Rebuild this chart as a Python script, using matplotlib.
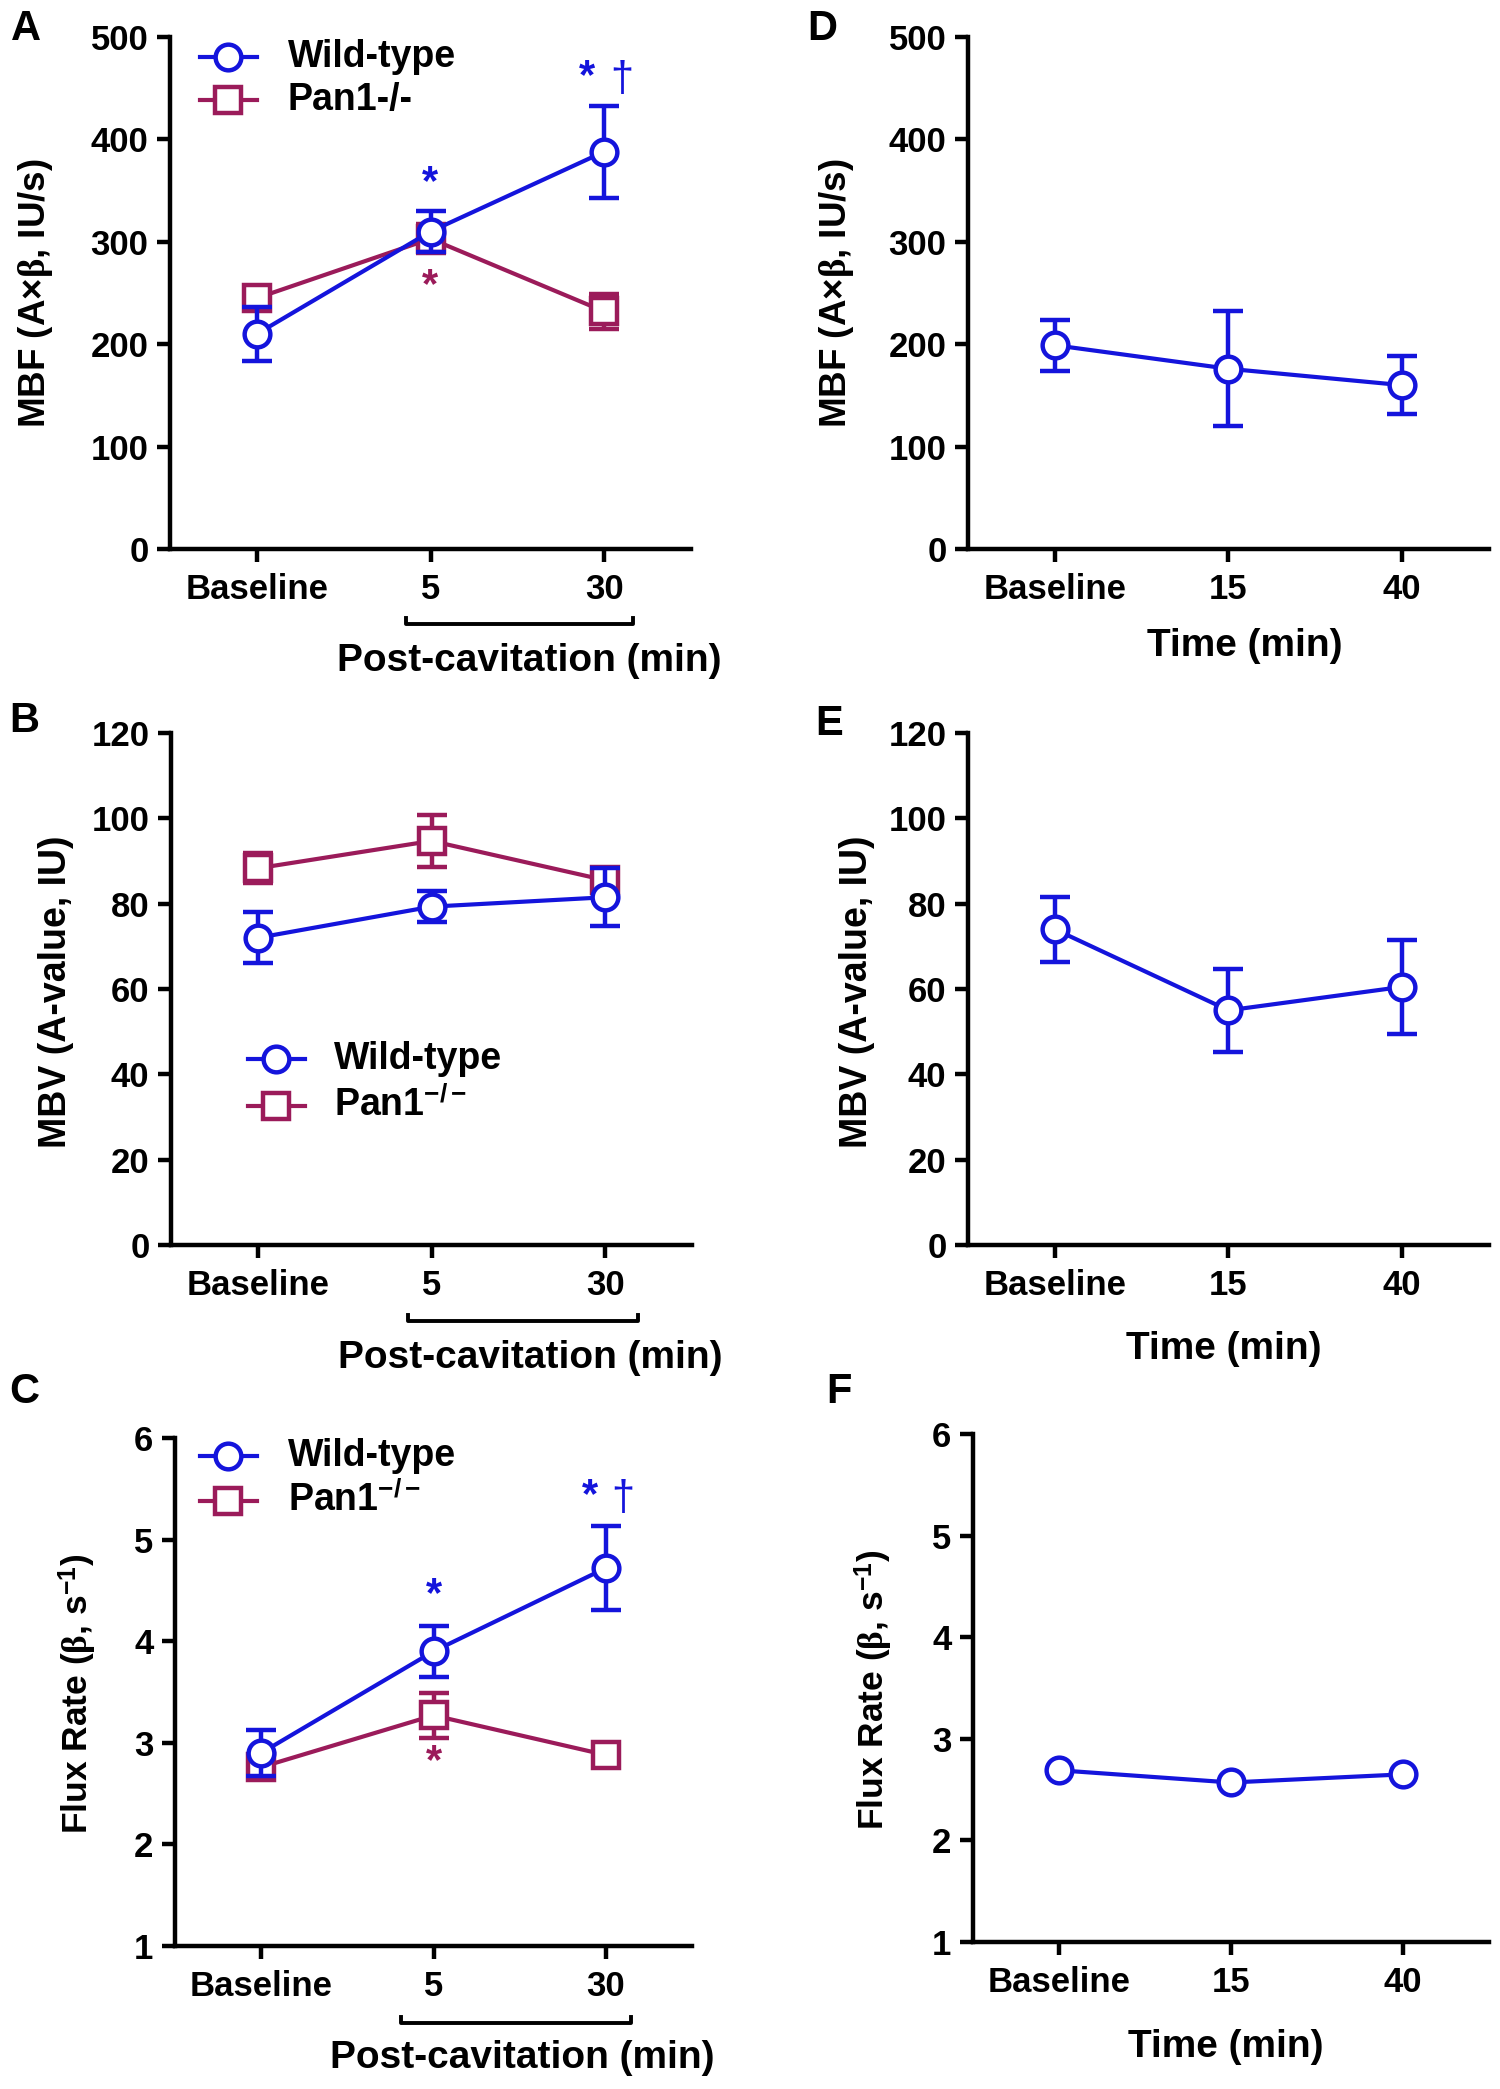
import matplotlib
matplotlib.use('Agg')
import matplotlib.pyplot as plt
from matplotlib.lines import Line2D
import numpy as np

plt.rcParams['font.family'] = ['Liberation Sans', 'DejaVu Sans']
plt.rcParams['font.weight'] = 'bold'
plt.rcParams['mathtext.fontset'] = 'custom'
plt.rcParams['mathtext.rm'] = 'Liberation Serif'
plt.rcParams['mathtext.it'] = 'Liberation Serif'
plt.rcParams['mathtext.bf'] = 'Liberation Sans:bold'

# ---------------- data ----------------
post_labels = ['Baseline', '5', '30']
time_labels = ['Baseline', '15', '40']
groups = ['Wild-type', 'Pan1-/-']

mbf_wt = [210, 310, 388]
mbf_wt_err = [26, 20, 45]
mbf_pan = [245, 303, 232]
mbf_pan_err = [11, 14, 17]

mbv_wt = [72, 79.3, 81.5]
mbv_wt_err = [6, 3.7, 6.8]
mbv_pan = [88.3, 94.7, 85.5]
mbv_pan_err = [3.5, 6, 2.5]

flux_wt = [2.9, 3.9, 4.72]
flux_wt_err = [0.23, 0.25, 0.41]
flux_pan = [2.76, 3.27, 2.88]
flux_pan_err = [0.12, 0.22, 0.04]

mbf_time = [199, 176, 160]
mbf_time_err = [25, 56, 28]
mbv_time = [74, 55, 60.5]
mbv_time_err = [7.6, 9.7, 11]
flux_time = [2.69, 2.57, 2.65]

# ---------------- layout ----------------
W, H = 1500, 2089
fig = plt.figure(figsize=(15, 20.89), dpi=100)
fig.patch.set_facecolor('white')

BLUE = '#1414DC'
RED = '#9B1B5A'
LW = 3.0
MS_O = 18.5
MS_S = 19


def fx(p):
    return p / W


def fy(p):
    return 1 - p / H


def add_ax(left, top, right, bottom):
    return fig.add_axes([fx(left), fy(bottom), (right - left) / W, (bottom - top) / H])


def style(ax, ylim, yticks, xlabels):
    ax.set_xlim(-0.5, 2.5)
    ax.set_ylim(*ylim)
    ax.set_yticks(yticks)
    ax.set_xticks([0, 1, 2])
    ax.set_xticklabels(xlabels)
    for s in ['top', 'right']:
        ax.spines[s].set_visible(False)
    for s in ['left', 'bottom']:
        ax.spines[s].set_linewidth(3.2)
        ax.spines[s].set_capstyle('projecting')
    ax.tick_params(width=3.2, length=9.5, labelsize=25, direction='out')
    ax.tick_params(axis='x', pad=8)
    ax.tick_params(axis='y', pad=6)
    for lab in ax.get_xticklabels() + ax.get_yticklabels():
        lab.set_fontweight('bold')


def series(ax, y, err, color, marker, ms, z):
    x = np.arange(len(y))
    if err is None:
        ax.plot(x, y, color=color, marker=marker, ms=ms, mfc='white', mec=color,
                mew=3.2, lw=LW, zorder=z, clip_on=False)
    else:
        ax.errorbar(x, y, yerr=err, color=color, marker=marker, ms=ms, mfc='white',
                    mec=color, mew=3.2, lw=LW, elinewidth=3.2, capsize=10.5, capthick=3.2,
                    zorder=z, clip_on=False)


def legend_entry(y, x0, x1, xm, xt, color, marker, ms, label):
    fig.add_artist(Line2D([fx(x0), fx(x1)], [fy(y), fy(y)], color=color, lw=LW))
    fig.add_artist(Line2D([fx(xm)], [fy(y)], marker=marker, ms=ms, mfc='white',
                          mec=color, mew=3.2, color=color, lw=0))
    fig.text(fx(xt), fy(y), label, fontsize=27, fontweight='bold', ha='left', va='center')


def bracket(x0, x1, y):
    fig.add_artist(Line2D([fx(x0), fx(x0), fx(x1), fx(x1)],
                          [fy(y - 6), fy(y), fy(y), fy(y - 6)], color='black', lw=2.8))


def ftext(x, y, s, **kw):
    kw.setdefault('fontsize', 27)
    kw.setdefault('fontweight', 'bold')
    kw.setdefault('ha', 'center')
    kw.setdefault('va', 'center')
    fig.text(fx(x), fy(y), s, **kw)


# Panel A
axA = add_ax(170, 37, 691, 549)
style(axA, (0, 500), range(0, 501, 100), post_labels)
series(axA, mbf_pan, mbf_pan_err, RED, 's', MS_S, 3)
series(axA, mbf_wt, mbf_wt_err, BLUE, 'o', MS_O, 4)
axA.text(1, 357, '*', color=BLUE, fontsize=30, ha='center', va='center')
axA.text(1, 257, '*', color=RED, fontsize=30, ha='center', va='center')
axA.text(1.9, 461, '*', color=BLUE, fontsize=30, ha='center', va='center')
axA.text(2.1, 458, '†', color=BLUE, fontsize=30, ha='center', va='center', fontweight='normal')

# Panel B
axB = add_ax(171, 733, 692, 1245)
style(axB, (0, 120), range(0, 121, 20), post_labels)
series(axB, mbv_pan, mbv_pan_err, RED, 's', MS_S, 3)
series(axB, mbv_wt, mbv_wt_err, BLUE, 'o', MS_O, 4)

# Panel C
axC = add_ax(175, 1438, 692, 1946)
style(axC, (1, 6), range(1, 7), post_labels)
series(axC, flux_pan, flux_pan_err, RED, 's', MS_S, 3)
series(axC, flux_wt, flux_wt_err, BLUE, 'o', MS_O, 4)
axC.text(1, 4.45, '*', color=BLUE, fontsize=30, ha='center', va='center')
axC.text(1, 2.81, '*', color=RED, fontsize=30, ha='center', va='center')
axC.text(1.91, 5.43, '*', color=BLUE, fontsize=30, ha='center', va='center')
axC.text(2.1, 5.40, '†', color=BLUE, fontsize=30, ha='center', va='center', fontweight='normal')

# Panel D
axD = add_ax(968, 37, 1489, 549)
style(axD, (0, 500), range(0, 501, 100), time_labels)
series(axD, mbf_time, mbf_time_err, BLUE, 'o', MS_O, 4)

# Panel E
axE = add_ax(968, 733, 1489, 1245)
style(axE, (0, 120), range(0, 121, 20), time_labels)
series(axE, mbv_time, mbv_time_err, BLUE, 'o', MS_O, 4)

# Panel F
axF = add_ax(973, 1434, 1489, 1942)
style(axF, (1, 6), range(1, 7), time_labels)
series(axF, flux_time, None, BLUE, 'o', MS_O, 4)

# Legends
legend_entry(57, 200, 257, 228, 288, BLUE, 'o', MS_O, groups[0])
legend_entry(100, 200, 257, 228, 288, RED, 's', MS_S, groups[1])
legend_entry(1059, 248, 305, 276, 334, BLUE, 'o', MS_O, groups[0])
legend_entry(1106, 248, 305, 276, 334, RED, 's', MS_S, r'Pan1$^{\mathbf{-/-}}$')
legend_entry(1456, 200, 257, 228, 288, BLUE, 'o', MS_O, groups[0])
legend_entry(1501, 200, 257, 228, 288, RED, 's', MS_S, r'Pan1$^{\mathbf{-/-}}$')

# Brackets and x labels
bracket(406, 633, 624)
bracket(408, 638, 1321)
bracket(401, 631, 2023)
ftext(529, 661, 'Post-cavitation (min)', fontsize=28)
ftext(530, 1358, 'Post-cavitation (min)', fontsize=28)
ftext(522, 2058, 'Post-cavitation (min)', fontsize=28)
ftext(1245, 646, 'Time (min)', fontsize=28)
ftext(1224, 1349, 'Time (min)', fontsize=28)
ftext(1226, 2047, 'Time (min)', fontsize=28)

# Y labels
mbf_lab = r'MBF (A×$\beta$, IU/s)'
mbv_lab = 'MBV (A-value, IU)'
flux_lab = r'Flux Rate ($\beta$, s$^{\mathbf{-1}}$)'
ftext(36, 293, mbf_lab, rotation=90, fontsize=26.5)
ftext(836, 293, mbf_lab, rotation=90, fontsize=26.5)
ftext(56, 992, mbv_lab, rotation=90, fontsize=27)
ftext(857, 992, mbv_lab, rotation=90, fontsize=27)
ftext(78, 1694, flux_lab, rotation=90, fontsize=25.5)
ftext(874, 1690, flux_lab, rotation=90, fontsize=25.5)

# Panel letters
for letter, (x, y) in zip('ABCDEF', [(26, 29), (24, 721), (24, 1392),
                                      (822, 29), (829, 724), (839, 1392)]):
    ftext(x, y, letter, fontsize=30)

fig.savefig('out.png', dpi=100, facecolor='white')
